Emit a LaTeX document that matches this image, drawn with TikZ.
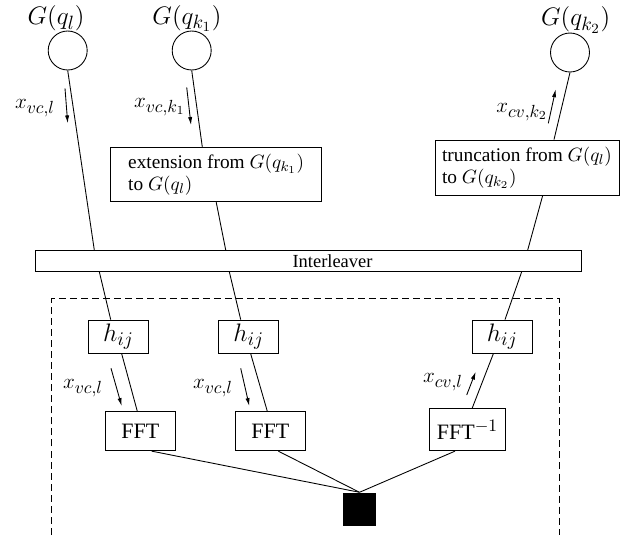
\documentclass[tikz,border=0pt]{standalone}
\usepackage{amsmath}
\usepackage{amssymb}
\usepackage{fontspec}
\setmainfont{Liberation Serif}
\usetikzlibrary{arrows.meta, calc}
\DeclareMathSizes{11}{11}{8.5}{6.5}
\DeclareMathSizes{12.5}{12.5}{9.8}{7}
\DeclareMathSizes{14}{14}{10.5}{8}
\DeclareMathSizes{15}{15}{11}{8}

\tikzset{
	box/.style={draw, line width=0.5pt, inner sep=0pt},
	vertex/.style={draw, circle, line width=0.5pt, minimum size=0.78cm, inner sep=0pt},
	wire/.style={line width=0.5pt},
	flow/.style={line width=0.5pt, -{Latex[length=4.5pt, width=2.4pt]}},
	glabel/.style={font=\fontsize{14}{16}\selectfont},
	xlabel/.style={font=\fontsize{12.5}{14}\selectfont}
}

\begin{document}
\begin{tikzpicture}[x=0.02cm, y=-0.02cm]
				\useasboundingbox (0,0) rectangle (621,535);
				
				\node[vertex] (C1) at (67.7,50.5) {};
				\node[vertex] (C2) at (191.7,50.5) {};
				\node[vertex] (C3) at (570,52.5) {};
				\node[glabel] (G1) at (56,18.3) {$G(q_l)$};
				\node[glabel] (G2) at (187,18.3) {$G(q_{k_1})$};
				\node[glabel] (G3) at (575.7,20) {$G(q_{k_2})$};
				
				\node[box, minimum width=4.22cm, minimum height=1.088cm, inner xsep=0.25cm, align=left, font=\fontsize{11}{12.5}\selectfont] (EXT) at (216.2,174.5) {extension from $G(q_{k_1})$\\to $G(q_l)$};
				\node[box, minimum width=3.68cm, minimum height=1.1cm, inner xsep=0.12cm, align=left, font=\fontsize{11}{12.5}\selectfont] (TRN) at (527,167.5) {truncation from $G(q_l)$\\to $G(q_{k_2})$};
				
				\node[box, minimum width=10.92cm, minimum height=0.434cm] (ILV) at (308,260.8) {};
				\node[font=\fontsize{10.5}{12}\selectfont] (ILVT) at (332.5,260.8) {Interleaver};
				\coordinate (I1t) at (94.3,250);
				\coordinate (I1b) at (99.3,271.7);
				\coordinate (I2t) at (225.7,250);
				\coordinate (I2b) at (229.3,271.7);
				\coordinate (I3t) at (527.7,250);
				\coordinate (I3b) at (521.7,271.7);
				
				\draw[dashed, line width=0.5pt, dash pattern=on 4pt off 2.3pt] (51.7,535) -- (51.7,298.7) -- (559.3,298.7) -- (559.3,535);
				
				\node[box, minimum width=1.2cm, minimum height=0.667cm, font=\fontsize{15}{17}\selectfont] (H1) at (118.5,336.7) {$h_{ij}$};
				\node[box, minimum width=1.2cm, minimum height=0.667cm, font=\fontsize{15}{17}\selectfont] (H2) at (248.7,336.7) {$h_{ij}$};
				\node[box, minimum width=1.2cm, minimum height=0.667cm, font=\fontsize{15}{17}\selectfont] (H3) at (502.3,336.7) {$h_{ij}$};
				
				\node[box, minimum width=1.413cm, minimum height=0.78cm, font=\fontsize{12.5}{14}\selectfont] (F1) at (140.3,431.2) {FFT};
				\node[box, minimum width=1.413cm, minimum height=0.78cm, font=\fontsize{12.5}{14}\selectfont] (F2) at (270.3,431.2) {FFT};
				\node[box, minimum width=1.528cm, minimum height=0.848cm, font=\fontsize{12.5}{14}\selectfont] (F3) at (467.5,429.5) {FFT$^{-1}$};
				
				\node[fill=black, minimum width=0.648cm, minimum height=0.667cm, inner sep=0pt] (SQ) at (359.5,509.3) {};
				
				\draw[wire] (C1.south) -- (I1t);
				\draw[wire] (I1b) -- ($(H1.north)+(-7.8,0)$);
				\draw[wire] ($(H1.south)+(3.2,0)$) -- ($(F1.north)+(-3,0)$);
				\draw[wire] ($(F1.south)+(11.4,0)$) -- (SQ.north);
				
				\draw[wire] (C2.south) -- ($(EXT.north)+(-13.9,0)$);
				\draw[wire] (EXT.south) -- (I2t);
				\draw[wire] (I2b) -- ($(H2.north)+(-8,0)$);
				\draw[wire] ($(H2.south)+(2,0)$) -- ($(F2.north)+(-3,0)$);
				\draw[wire] ($(F2.south)+(8,0)$) -- (SQ.north);
				
				\draw[wire] (C3.south) -- ($(TRN.north)+(27,0)$);
				\draw[wire] ($(TRN.south)+(15.7,0)$) -- (I3t);
				\draw[wire] (I3b) -- ($(H3.north)+(2.7,0)$);
				\draw[wire] ($(H3.south)+(-9,0)$) -- ($(F3.north)+(4.8,0)$);
				\draw[wire] ($(F3.south)+(-12.5,0)$) -- (SQ.north);
				
				\draw[flow] (65,88.3) -- (67.7,123.3);
				\draw[flow] (186.7,87.3) -- (191,125);
				\draw[flow] (548.3,123.3) -- (555.7,89.3);
				\draw[flow] (111,368.3) -- (121.7,406);
				\draw[flow] (240.7,368.3) -- (249.3,406);
				\draw[flow] (466.7,395) -- (475.7,371.7);
				
				\node[xlabel] (X1) at (35,108.3) {$x_{vc,l}$};
				\node[xlabel] (X2) at (159.7,106.7) {$x_{vc,k_1}$};
				\node[xlabel] (X3) at (522,111.7) {$x_{cv,k_2}$};
				\node[xlabel] (X4) at (83,388) {$x_{vc,l}$};
				\node[xlabel] (X5) at (213,388) {$x_{vc,l}$};
				\node[xlabel] (X6) at (443,382) {$x_{cv,l}$};
\end{tikzpicture}
\end{document}
